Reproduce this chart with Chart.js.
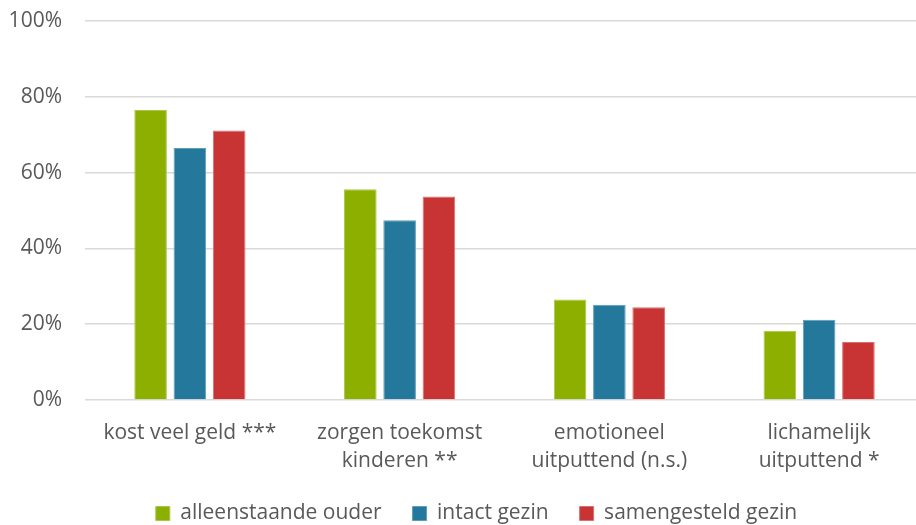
<!DOCTYPE html>
<html>
<head>
<meta charset="utf-8">
<script src="https://cdn.jsdelivr.net/npm/chart.js@4.4.1/dist/chart.umd.min.js"></script>
<style>
  html, body { margin: 0; padding: 0; background: #ffffff; overflow: hidden; }
  #wrap { width: 953px; height: 525px; }
</style>
</head>
<body>
<div id="wrap"><canvas id="chart" width="953" height="525"></canvas></div>
<script>
// Categories (multi-line labels) and percentages per household type
const categories = [
  ['kost veel geld ***'],
  ['zorgen toekomst', 'kinderen **'],
  ['emotioneel', 'uitputtend (n.s.)'],
  ['lichamelijk', 'uitputtend *']
];
const alleenstaandeOuder = [76.5, 55.6, 26.5, 18.3];
const intactGezin        = [66.5, 47.4, 25.1, 21.2];
const samengesteldGezin  = [71.1, 53.7, 24.5, 15.3];
const yTicks = [0, 20, 40, 60, 80, 100];

const textColor = '#595959';
const fontFamily = '"Open Sans", "Noto Sans", sans-serif';

new Chart(document.getElementById('chart'), {
  type: 'bar',
  data: {
    labels: categories,
    datasets: [
      { label: 'alleenstaande ouder', data: alleenstaandeOuder,
        backgroundColor: '#8DB000', borderColor: '#A9C84A', borderWidth: 1 },
      { label: 'intact gezin', data: intactGezin,
        backgroundColor: '#23789B', borderColor: '#5E9DB8', borderWidth: 1 },
      { label: 'samengesteld gezin', data: samengesteldGezin,
        backgroundColor: '#C83334', borderColor: '#D9706F', borderWidth: 1 }
    ]
  },
  options: {
    responsive: false,
    animation: false,
    devicePixelRatio: 1,
    layout: { padding: { top: 21, left: 0, right: 0, bottom: 0 } },
    datasets: { bar: { categoryPercentage: 0.562, barPercentage: 0.83 } },
    plugins: {
      tooltip: { enabled: false },
      legend: {
        position: 'bottom',
        maxHeight: 53,
        labels: {
          boxWidth: 14,
          boxHeight: 14,
          padding: 31,
          color: textColor,
          font: { family: fontFamily, size: 21 }
        }
      }
    },
    scales: {
      x: {
        grid: { display: false, drawTicks: false },
        border: { display: false },
        ticks: {
          color: textColor,
          padding: 19,
          maxRotation: 0,
          autoSkip: false,
          font: { family: fontFamily, size: 21, lineHeight: 1.333 }
        },
        afterFit(scale) { scale.height = 72; }
      },
      y: {
        min: 0,
        max: 100,
        afterBuildTicks(scale) { scale.ticks = yTicks.map(v => ({ value: v })); },
        grid: { color: '#d9d9d9', lineWidth: 1.5, drawTicks: false },
        border: { display: false },
        ticks: {
          color: textColor,
          padding: 23,
          font: { family: fontFamily, size: 21 },
          callback: v => v + '%'
        },
        afterFit(scale) {
          scale.width = 85;
          // the top label may overhang the plot; the outer padding already leaves room
          scale.paddingTop = 0;
          scale.paddingBottom = 0;
        }
      },
      spacer: {
        type: 'linear',
        position: 'right',
        grid: { display: false, drawTicks: false },
        border: { display: false },
        ticks: { display: false },
        afterFit(scale) { scale.width = 29; }
      }
    }
  }
});
</script>
</body>
</html>
